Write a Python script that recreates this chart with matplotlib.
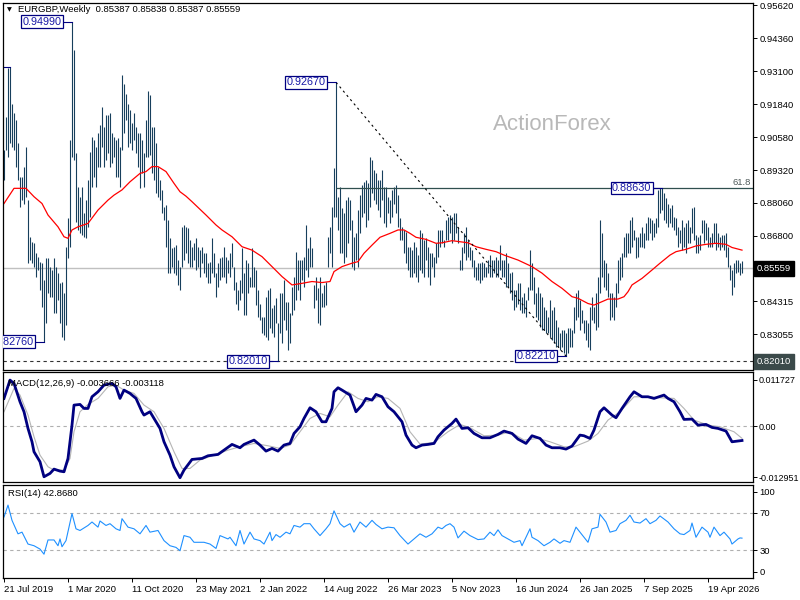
import matplotlib
matplotlib.use("Agg")
import matplotlib.pyplot as plt
import matplotlib.transforms as mtransforms
import numpy as np

plt.rcParams["font.family"] = ["Liberation Sans", "DejaVu Sans"]

# weekly EURGBP bars (high / low per week)
highs = [
    0.9008, 0.9135, 0.9320, 0.9326, 0.9186, 0.9148, 0.9123, 0.9034, 0.8907, 0.8907,
    0.8945, 0.9021, 0.8817, 0.8677, 0.8658, 0.8652, 0.8614, 0.8601, 0.8582, 0.8576,
    0.8512, 0.8595, 0.8595, 0.8563, 0.8550, 0.8595, 0.8563, 0.8538, 0.8499, 0.8506,
    0.8461, 0.8639, 0.8747, 0.9046, 0.9499, 0.9390, 0.8996, 0.8868, 0.8830, 0.8868,
    0.8766, 0.8817, 0.8894, 0.9002, 0.9059, 0.9046, 0.9021, 0.9072, 0.9104, 0.9174,
    0.9097, 0.9142, 0.9142, 0.9148, 0.9072, 0.9059, 0.9046, 0.9053, 0.9021, 0.9294,
    0.9262, 0.9224, 0.9186, 0.9161, 0.9110, 0.9148, 0.9097, 0.9072, 0.9072, 0.9046,
    0.8996, 0.9123, 0.9235, 0.9218, 0.9097, 0.9097, 0.9034, 0.8945, 0.8894, 0.8856,
    0.8792, 0.8798, 0.8741, 0.8671, 0.8633, 0.8639, 0.8645, 0.8588, 0.8563, 0.8715,
    0.8722, 0.8715, 0.8709, 0.8665, 0.8639, 0.8652, 0.8671, 0.8639, 0.8626, 0.8639,
    0.8614, 0.8614, 0.8576, 0.8582, 0.8671, 0.8614, 0.8538, 0.8576, 0.8595, 0.8601,
    0.8639, 0.8601, 0.8588, 0.8614, 0.8652, 0.8563, 0.8506, 0.8474, 0.8512, 0.8633,
    0.8538, 0.8588, 0.8576, 0.8525, 0.8633, 0.8563, 0.8550, 0.8474, 0.8422, 0.8371,
    0.8371, 0.8448, 0.8474, 0.8480, 0.8403, 0.8416, 0.8442, 0.8346, 0.8461, 0.8461,
    0.8512, 0.8429, 0.8429, 0.8384, 0.8486, 0.8525, 0.8620, 0.8588, 0.8588, 0.8588,
    0.8601, 0.8722, 0.8633, 0.8677, 0.8633, 0.8493, 0.8525, 0.8480, 0.8525, 0.8461,
    0.8493, 0.8506, 0.8677, 0.8715, 0.8792, 0.8938, 0.9267, 0.8830, 0.8868, 0.8785,
    0.8766, 0.8817, 0.8830, 0.8817, 0.8741, 0.8677, 0.8690, 0.8779, 0.8836, 0.8875,
    0.8887, 0.8894, 0.8881, 0.8983, 0.8970, 0.8932, 0.8919, 0.8894, 0.8894, 0.8932,
    0.8868, 0.8868, 0.8830, 0.8817, 0.8856, 0.8868, 0.8875, 0.8836, 0.8747, 0.8715,
    0.8703, 0.8696, 0.8639, 0.8639, 0.8626, 0.8658, 0.8639, 0.8607, 0.8703, 0.8690,
    0.8665, 0.8671, 0.8639, 0.8614, 0.8614, 0.8601, 0.8652, 0.8703, 0.8703, 0.8703,
    0.8665, 0.8741, 0.8754, 0.8760, 0.8754, 0.8766, 0.8766, 0.8715, 0.8588, 0.8639,
    0.8690, 0.8715, 0.8665, 0.8639, 0.8626, 0.8588, 0.8563, 0.8576, 0.8576, 0.8582,
    0.8576, 0.8563, 0.8588, 0.8607, 0.8588, 0.8588, 0.8601, 0.8588, 0.8645, 0.8588,
    0.8588, 0.8614, 0.8576, 0.8538, 0.8544, 0.8474, 0.8474, 0.8499, 0.8499, 0.8448,
    0.8461, 0.8435, 0.8486, 0.8626, 0.8576, 0.8525, 0.8461, 0.8486, 0.8461, 0.8448,
    0.8410, 0.8397, 0.8371, 0.8435, 0.8397, 0.8410, 0.8359, 0.8333, 0.8308, 0.8321,
    0.8321, 0.8308, 0.8327, 0.8327, 0.8321, 0.8410, 0.8461, 0.8474, 0.8435, 0.8397,
    0.8359, 0.8359, 0.8346, 0.8410, 0.8448, 0.8410, 0.8461, 0.8525, 0.8741, 0.8690,
    0.8588, 0.8576, 0.8538, 0.8461, 0.8461, 0.8448, 0.8499, 0.8588, 0.8601, 0.8614,
    0.8677, 0.8690, 0.8690, 0.8741, 0.8754, 0.8703, 0.8677, 0.8677, 0.8690, 0.8715,
    0.8690, 0.8728, 0.8754, 0.8747, 0.8741, 0.8728, 0.8747, 0.8856, 0.8862, 0.8863,
    0.8843, 0.8824, 0.8804, 0.8785, 0.8798, 0.8754, 0.8747, 0.8715, 0.8703, 0.8741,
    0.8715, 0.8728, 0.8741, 0.8715, 0.8785, 0.8792, 0.8684, 0.8677, 0.8684, 0.8741,
    0.8741, 0.8728, 0.8715, 0.8677, 0.8690, 0.8728, 0.8728, 0.8690, 0.8677, 0.8684,
    0.8684, 0.8690, 0.8639, 0.8569, 0.8550, 0.8576, 0.8588, 0.8588, 0.8576, 0.85838,
]
lows = [
    0.8894, 0.9008, 0.8983, 0.9034, 0.9021, 0.9008, 0.8945, 0.8894, 0.8792, 0.8817,
    0.8804, 0.8830, 0.8576, 0.8588, 0.8576, 0.8563, 0.8525, 0.8550, 0.8474, 0.8410,
    0.8276, 0.8346, 0.8461, 0.8448, 0.8448, 0.8384, 0.8384, 0.8435, 0.8346, 0.8295,
    0.8283, 0.8340, 0.8595, 0.8639, 0.8983, 0.8970, 0.8735, 0.8703, 0.8690, 0.8684,
    0.8675, 0.8671, 0.8715, 0.8754, 0.8868, 0.8907, 0.8868, 0.8945, 0.8945, 0.9021,
    0.8945, 0.8970, 0.8996, 0.8945, 0.8958, 0.8983, 0.8907, 0.8907, 0.8868, 0.9008,
    0.9072, 0.9123, 0.9021, 0.9034, 0.9008, 0.9046, 0.8996, 0.8945, 0.8862, 0.8919,
    0.8868, 0.8983, 0.8983, 0.8989, 0.8919, 0.8894, 0.8843, 0.8830, 0.8817, 0.8766,
    0.8741, 0.8639, 0.8538, 0.8538, 0.8563, 0.8538, 0.8531, 0.8493, 0.8474, 0.8563,
    0.8588, 0.8614, 0.8576, 0.8563, 0.8563, 0.8588, 0.8550, 0.8563, 0.8525, 0.8576,
    0.8538, 0.8525, 0.8499, 0.8499, 0.8538, 0.8525, 0.8448, 0.8486, 0.8512, 0.8525,
    0.8525, 0.8499, 0.8538, 0.8525, 0.8563, 0.8474, 0.8422, 0.8397, 0.8435, 0.8461,
    0.8378, 0.8378, 0.8461, 0.8486, 0.8486, 0.8486, 0.8416, 0.8371, 0.8359, 0.8308,
    0.8302, 0.8295, 0.8283, 0.8327, 0.8308, 0.8295, 0.8346, 0.8201, 0.8308, 0.8270,
    0.8359, 0.8321, 0.8245, 0.8270, 0.8378, 0.8397, 0.8435, 0.8474, 0.8435, 0.8512,
    0.8486, 0.8550, 0.8525, 0.8563, 0.8563, 0.8403, 0.8435, 0.8346, 0.8340, 0.8410,
    0.8410, 0.8416, 0.8563, 0.8614, 0.8563, 0.8754, 0.8754, 0.8703, 0.8614, 0.8614,
    0.8576, 0.8601, 0.8652, 0.8703, 0.8563, 0.8550, 0.8588, 0.8563, 0.8690, 0.8754,
    0.8766, 0.8715, 0.8741, 0.8792, 0.8843, 0.8817, 0.8804, 0.8779, 0.8754, 0.8817,
    0.8728, 0.8715, 0.8766, 0.8728, 0.8754, 0.8804, 0.8766, 0.8715, 0.8665, 0.8665,
    0.8614, 0.8576, 0.8550, 0.8525, 0.8525, 0.8538, 0.8525, 0.8506, 0.8550, 0.8538,
    0.8525, 0.8588, 0.8525, 0.8493, 0.8563, 0.8525, 0.8576, 0.8601, 0.8639, 0.8652,
    0.8639, 0.8665, 0.8665, 0.8690, 0.8652, 0.8665, 0.8690, 0.8652, 0.8550, 0.8550,
    0.8614, 0.8588, 0.8601, 0.8588, 0.8563, 0.8525, 0.8512, 0.8512, 0.8499, 0.8512,
    0.8525, 0.8525, 0.8538, 0.8525, 0.8525, 0.8538, 0.8525, 0.8525, 0.8550, 0.8525,
    0.8525, 0.8486, 0.8486, 0.8461, 0.8435, 0.8397, 0.8410, 0.8422, 0.8397, 0.8384,
    0.8384, 0.8371, 0.8435, 0.8474, 0.8474, 0.8422, 0.8371, 0.8359, 0.8333, 0.8321,
    0.8321, 0.8308, 0.8308, 0.8295, 0.8283, 0.8270, 0.8257, 0.8257, 0.8245, 0.8257,
    0.8232, 0.8221, 0.8232, 0.8257, 0.8257, 0.8308, 0.8359, 0.8371, 0.8321, 0.8346,
    0.8308, 0.8283, 0.8257, 0.8245, 0.8359, 0.8346, 0.8321, 0.8333, 0.8461, 0.8525,
    0.8486, 0.8474, 0.8448, 0.8359, 0.8371, 0.8359, 0.8410, 0.8461, 0.8512, 0.8525,
    0.8601, 0.8601, 0.8614, 0.8614, 0.8639, 0.8665, 0.8595, 0.8601, 0.8639, 0.8639,
    0.8633, 0.8665, 0.8665, 0.8690, 0.8665, 0.8677, 0.8690, 0.8715, 0.8766, 0.8779,
    0.8741, 0.8728, 0.8715, 0.8728, 0.8715, 0.8703, 0.8684, 0.8639, 0.8652, 0.8626,
    0.8639, 0.8614, 0.8652, 0.8652, 0.8690, 0.8665, 0.8614, 0.8614, 0.8626, 0.8690,
    0.8652, 0.8665, 0.8639, 0.8639, 0.8639, 0.8652, 0.8626, 0.8639, 0.8626, 0.8639,
    0.8626, 0.8601, 0.8563, 0.8512, 0.8454, 0.8486, 0.8538, 0.8544, 0.8531, 0.85387,
]
last_close = 0.85559

# moving average (red), sampled along the curve
ma_idx = [0, 5, 11, 15, 19, 22, 27, 30, 32, 34, 37, 42, 47, 52, 55, 59, 63, 68, 71, 74,
          77, 81, 85, 88, 91, 94, 101, 106, 109, 114, 119, 124, 129, 134, 139, 144, 149,
          154, 159, 163, 165, 169, 174, 177, 180, 184, 188, 193, 197, 200, 203, 206, 211,
          216, 219, 224, 228, 232, 236, 241, 246, 250, 257, 264, 269, 274, 279, 284, 287,
          292, 295, 299, 302, 307, 310, 312, 314, 319, 324, 328, 333, 336, 341, 346, 351,
          356, 361, 364, 369]
ma_vals = [0.8804, 0.8862, 0.8862, 0.8830, 0.8804, 0.8760, 0.8715, 0.8677, 0.8671, 0.8703,
           0.8715, 0.8728, 0.8779, 0.8817, 0.8836, 0.8856, 0.8887, 0.8919, 0.8926, 0.8945,
           0.8945, 0.8926, 0.8881, 0.8849, 0.8832, 0.8811, 0.8760, 0.8722, 0.8703, 0.8677,
           0.8639, 0.8626, 0.8601, 0.8563, 0.8525, 0.8493, 0.8499, 0.8506, 0.8502, 0.8506,
           0.8544, 0.8563, 0.8576, 0.8582, 0.8614, 0.8645, 0.8675, 0.8690, 0.8703, 0.8703,
           0.8690, 0.8675, 0.8667, 0.8652, 0.8654, 0.8662, 0.8658, 0.8654, 0.8639, 0.8629,
           0.8620, 0.8607, 0.8588, 0.8563, 0.8538, 0.8506, 0.8480, 0.8448, 0.8442, 0.8422,
           0.8416, 0.8429, 0.8439, 0.8439, 0.8448, 0.8467, 0.8493, 0.8518, 0.8550, 0.8576,
           0.8607, 0.8620, 0.8629, 0.8642, 0.8648, 0.8652, 0.8648, 0.8636, 0.8626]

# MACD(12,26,9), values in units of 0.001
macd_idx = [0, 3, 5, 8, 10, 12, 14, 15, 18, 20, 23, 25, 28, 30, 32, 34, 35, 38, 40, 42,
            44, 47, 50, 54, 56, 58, 60, 63, 66, 69, 70, 73, 75, 78, 80, 83, 85, 88, 90, 94,
            99, 102, 107, 114, 118, 120, 125, 128, 131, 134, 137, 140, 143, 145, 148, 150,
            153, 156, 159, 161, 164, 165, 167, 169, 173, 176, 179, 181, 184, 186, 189, 192,
            195, 199, 201, 204, 206, 209, 212, 215, 217, 220, 224, 226, 229, 232, 235, 239,
            243, 247, 250, 254, 257, 261, 264, 268, 271, 274, 278, 281, 284, 288, 290, 293,
            295, 298, 300, 304, 306, 309, 313, 315, 319, 322, 325, 330, 332, 335, 338, 340,
            344, 347, 351, 354, 357, 361, 364, 369]
macd_milli = [7.04, 11.70, 10.85, 6.19, 3.65, -0.59, -3.99, -6.53, -9.07, -12.89, -12.04,
              -10.94, -11.45, -11.62, -8.23, 0.25, 5.34, 5.51, 4.49, 4.49, 7.46, 8.73, 10.43,
              10.85, 10.0, 7.04, 9.16, 8.31, 7.04, 3.65, 2.80, 3.65, 1.95, -0.59, -3.99,
              -7.38, -10.35, -13.14, -11.19, -8.48, -8.23, -7.55, -7.21, -4.66, -5.51, -4.66,
              -3.56, -4.83, -6.36, -5.68, -6.36, -4.83, -4.41, -1.87, -0.17, 1.95, 4.66, 3.65,
              1.10, 1.10, 4.49, 8.73, 9.75, 9.16, 7.89, 3.65, 5.34, 7.04, 6.61, 8.06, 7.46,
              4.92, 3.65, 1.10, -2.29, -4.83, -5.51, -4.83, -4.66, -4.41, -2.71, -1.02, 0.68,
              1.78, -0.59, -0.42, -1.87, -2.97, -2.97, -2.12, -1.27, -1.87, -3.31, -4.41,
              -2.46, -3.14, -4.83, -5.51, -5.51, -5.85, -5.09, -2.29, -2.46, -3.14, -1.02,
              3.65, 4.66, 2.80, 2.12, 4.49, 7.46, 8.73, 7.46, 7.46, 7.04, 7.89, 7.04, 6.19,
              3.65, 1.70, 1.78, 0.25, 0.42, -0.34, -0.59, -1.27, -3.99, -3.666]
sig_idx = [0, 5, 8, 12, 15, 18, 22, 25, 30, 33, 35, 38, 42, 47, 52, 56, 60, 65, 70, 75,
           80, 85, 89, 93, 98, 105, 112, 118, 125, 132, 138, 143, 148, 153, 158, 163, 167,
           172, 177, 182, 187, 192, 198, 203, 208, 215, 222, 228, 233, 240, 247, 253, 260,
           267, 273, 280, 285, 292, 297, 302, 308, 315, 322, 328, 335, 340, 345, 352, 358,
           365, 369]
sig_milli = [3.65, 9.58, 7.89, 2.80, -2.71, -7.38, -10.35, -11.19, -11.19, -8.23, -1.44,
             3.65, 5.51, 7.04, 10.0, 10.43, 9.16, 8.31, 5.34, 3.65, -0.59, -6.53, -10.77,
             -10.77, -8.65, -7.38, -6.11, -5.26, -4.41, -5.00, -5.68, -4.83, -1.44, 1.95,
             3.22, 2.37, 5.34, 8.73, 7.04, 6.19, 7.46, 7.04, 4.49, -1.44, -4.58, -4.16,
             -1.44, 0.42, -0.42, -2.46, -2.29, -1.44, -3.56, -3.14, -3.99, -5.26, -5.26,
             -3.82, -1.87, 1.53, 3.65, 7.46, 7.46, 7.21, 7.04, 4.49, 1.53, 0.25, -0.17,
             -1.44, -3.118]

# RSI(14)
rsi_idx = [0, 2, 4, 7, 9, 12, 15, 18, 20, 22, 25, 27, 28, 29, 31, 34, 36, 38, 42, 44, 47,
           48, 51, 53, 56, 58, 59, 62, 65, 68, 71, 73, 77, 80, 83, 86, 88, 90, 93, 95, 100,
           103, 106, 108, 112, 113, 116, 118, 120, 123, 125, 128, 130, 133, 134, 136, 138,
           141, 143, 145, 148, 150, 153, 155, 158, 161, 163, 165, 168, 170, 173, 175, 178,
           181, 184, 186, 189, 192, 195, 198, 202, 205, 208, 211, 214, 217, 219, 221, 223,
           225, 227, 230, 233, 237, 240, 243, 245, 247, 249, 252, 255, 258, 259, 263, 264,
           267, 270, 273, 275, 278, 280, 283, 286, 288, 292, 294, 297, 298, 301, 303, 306,
           308, 311, 313, 315, 318, 321, 323, 326, 328, 332, 335, 338, 340, 343, 344, 346,
           349, 352, 353, 355, 358, 360, 363, 364, 367, 368, 369]
rsi_vals = [65.6, 78.4, 62.0, 47.5, 49.3, 36.5, 34.7, 31.1, 25.6, 40.9, 40.9, 34.7, 42.0,
            33.6, 40.2, 69.3, 52.9, 51.1, 56.5, 60.2, 54.7, 61.3, 56.5, 58.4, 52.9, 51.1,
            63.8, 54.7, 52.9, 47.5, 56.5, 49.3, 51.1, 40.2, 34.7, 32.9, 29.3, 45.6, 43.8,
            38.4, 38.4, 36.5, 31.8, 45.6, 42.0, 43.8, 34.7, 51.1, 36.5, 49.3, 42.0, 40.2,
            36.5, 49.3, 40.2, 46.7, 43.8, 49.3, 47.5, 56.5, 54.7, 58.4, 58.4, 52.9, 45.6,
            52.9, 58.4, 72.2, 58.4, 54.7, 58.4, 49.3, 60.2, 54.7, 62.0, 57.6, 52.9, 54.7,
            54.0, 45.6, 36.5, 42.0, 47.5, 43.8, 47.5, 54.7, 52.9, 56.5, 58.4, 54.7, 43.1,
            50.4, 45.6, 41.3, 42.0, 49.3, 45.6, 51.8, 45.6, 42.0, 38.4, 40.2, 34.7, 52.9,
            43.8, 40.2, 34.7, 38.4, 42.0, 37.3, 40.2, 38.4, 54.7, 49.3, 38.4, 52.9, 54.7,
            68.5, 60.2, 49.3, 51.1, 58.4, 62.0, 67.5, 60.2, 59.1, 63.8, 58.4, 62.0, 66.7,
            60.2, 52.9, 47.5, 46.7, 51.1, 59.1, 43.8, 54.7, 49.3, 43.8, 54.7, 45.6, 49.3,
            42.0, 36.5, 42.0, 43.1, 42.868]

# swing highs/lows that carry a price label
swing_idx = [34, 20, 137, 166, 281, 329]
swing_vals = [0.94990, 0.82760, 0.82010, 0.92670, 0.82210, 0.88630]

price_ticks = [0.95620, 0.94360, 0.93100, 0.91840, 0.90580, 0.89320, 0.88060,
               0.86800, 0.84315, 0.83055, 0.81795]
date_idx = [0, 32, 64, 96, 128, 160, 192, 224, 256, 288, 320, 352]
date_labels = ["21 Jul 2019", "1 Mar 2020", "11 Oct 2020", "23 May 2021", "2 Jan 2022",
               "14 Aug 2022", "26 Mar 2023", "5 Nov 2023", "16 Jun 2024", "26 Jan 2025",
               "7 Sep 2025", "19 Apr 2026"]

FS = 6.8
NAVY = "#000080"
W, H = 800, 600


def px_box(l, t, r, b):
    return [l / W, 1 - b / H, (r - l) / W, (b - t) / H]


fig = plt.figure(figsize=(8, 6), dpi=100)
ax = fig.add_axes(px_box(3, 3, 753, 370))
ax_m = fig.add_axes(px_box(3, 372, 753, 482), sharex=ax)
ax_r = fig.add_axes(px_box(3, 485, 753, 578), sharex=ax)

x = np.arange(len(highs))
ax.set_xlim(-0.5, 374.5)

# --- price panel ---
ax.set_ylim(0.8168, 0.9570)
ax.axhline(last_close, color="#c0c0c0", lw=1)
ax.axhline(0.8201, color="#333333", lw=0.8, ls=(0, (3, 3)))
ax.vlines(x, lows, highs, color="#173f5c", lw=0.8)
ax.plot(ma_idx, ma_vals, color="red", lw=0.9)

ax.hlines(0.8862, 166, 374.5, color="#2f4f4f", lw=0.9)
ax.text(373.5, 0.8867, "61.8", ha="right", va="bottom", fontsize=FS, color="#4f5a5a")
ax.plot([166, 281], [0.9267, 0.8221], color="black", lw=0.8, ls=(0, (2, 3)))
ax.plot([-0.5, 3], [0.9326, 0.9326], color=NAVY, lw=0.8)

for i, v in zip(swing_idx, swing_vals):
    ax.plot([i - 5, i], [v, v], color=NAVY, lw=0.8)
    t = ax.text(i - 5.3, v, f"{v:.5f}", ha="right", va="center", fontsize=7.8,
                color="#1a1aa6",
                bbox=dict(boxstyle="square,pad=0.12", fc="white", ec=NAVY, lw=0.9))
    t.set_clip_on(True)

ax.text(0.732, 0.668, "ActionForex", transform=ax.transAxes, ha="center", va="center",
        fontsize=16, color="#b8b8b8")

ax.yaxis.tick_right()
ax.set_yticks(price_ticks)
ax.set_yticklabels([f"{v:.5f}" for v in price_ticks])

trans = mtransforms.blended_transform_factory(ax.transAxes, ax.transData)
ax.text(1.005, last_close, f"{last_close:.5f}", transform=trans, ha="left", va="center",
        fontsize=FS, color="white", zorder=5,
        bbox=dict(boxstyle="square,pad=0.3", fc="black", ec="black"))
ax.text(1.005, 0.8201, "0.82010", transform=trans, ha="left", va="center",
        fontsize=FS, color="white", zorder=5,
        bbox=dict(boxstyle="square,pad=0.3", fc="#3b4a4a", ec="#3b4a4a"))

# --- MACD panel ---
ax_m.set_ylim(-0.01422, 0.01376)
ax_m.axhline(0, color="#b0b0b0", lw=0.8, ls=(0, (3, 3)))
ax_m.plot(sig_idx, np.array(sig_milli) * 1e-3, color="#b5b5b5", lw=0.8)
ax_m.plot(macd_idx, np.array(macd_milli) * 1e-3, color=NAVY, lw=2.0)
ax_m.yaxis.tick_right()
ax_m.set_yticks([0.011727, 0.0, -0.012951])
ax_m.set_yticklabels(["0.011727", "0.00", "-0.012951"])
ax_m.text(0.007, 0.9, "MACD(12,26,9) -0.003666 -0.003118", transform=ax_m.transAxes,
          fontsize=FS, va="center")

# --- RSI panel ---
ax_r.set_ylim(0, 100)
for lvl in (70, 30):
    ax_r.axhline(lvl, color="#b0b0b0", lw=0.8, ls=(0, (3, 3)))
ax_r.plot(rsi_idx, rsi_vals, color="#1e90ff", lw=0.8)
ax_r.yaxis.tick_right()
ax_r.set_yticks([92.5, 70, 30, 6.5])
ax_r.set_yticklabels(["100", "70", "30", "0"])
ax_r.text(0.007, 0.91, "RSI(14) 42.8680", transform=ax_r.transAxes, fontsize=FS,
          va="center")

ax_r.set_xticks(date_idx)
ax_r.set_xticklabels(date_labels, ha="left")

for a in (ax, ax_m, ax_r):
    for s in a.spines.values():
        s.set_linewidth(0.9)
        s.set_color("black")
    a.tick_params(axis="y", labelsize=FS, length=3, width=0.7, pad=1.5, right=True,
                  left=False)
ax_m.tick_params(axis="y", labelsize=6.5, pad=1)
for a in (ax, ax_m):
    a.tick_params(axis="x", bottom=False, labelbottom=False)
ax_r.tick_params(axis="x", labelsize=FS, length=3, width=0.7, pad=2)

fig.text(9 / W, 1 - 10 / H, "\u25bc", fontsize=4.5, ha="center", va="center",
         family="DejaVu Sans")
fig.text(18 / W, 1 - 10 / H, "EURGBP,Weekly  0.85387 0.85838 0.85387 0.85559",
         fontsize=FS, va="center")

fig.savefig("out.png", dpi=100, facecolor="white")
